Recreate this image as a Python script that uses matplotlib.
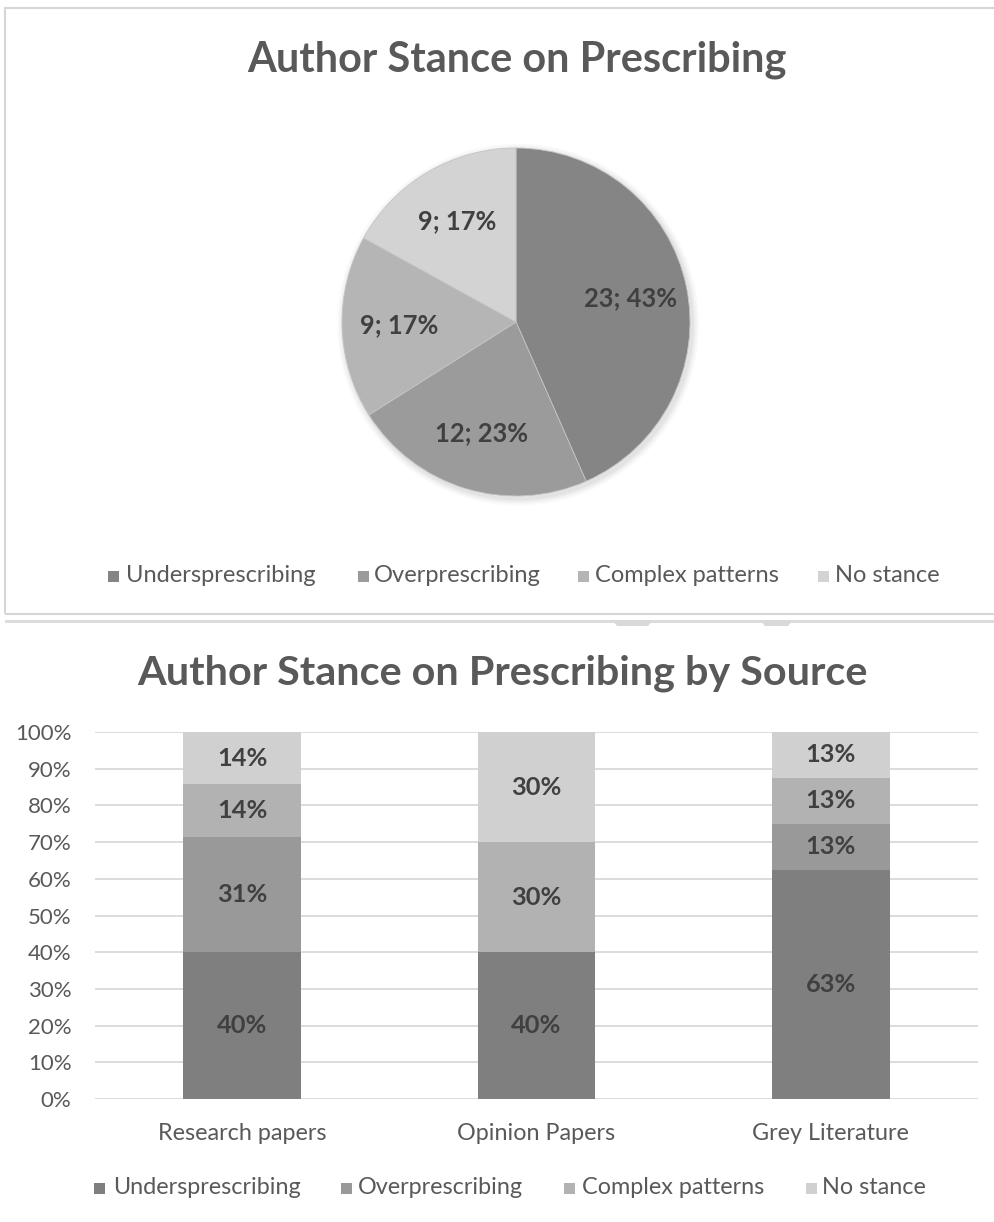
import matplotlib
matplotlib.use('Agg')
import matplotlib.pyplot as plt
from matplotlib.patches import Rectangle, Polygon, Circle
import numpy as np

plt.rcParams['font.family'] = ['Lato', 'DejaVu Sans']

# ---------------- data ----------------
categories = ['Undersprescribing', 'Overprescribing', 'Complex patterns', 'No stance']
pie_counts = [23, 12, 9, 9]

sources = ['Research papers', 'Opinion Papers', 'Grey Literature']
under_counts = [14, 4, 5]
over_counts = [11, 0, 1]
complex_counts = [5, 3, 1]
nostance_counts = [5, 3, 1]
y_ticks = [0, 10, 20, 30, 40, 50, 60, 70, 80, 90, 100]

title_top = 'Author Stance on Prescribing'
title_bottom = 'Author Stance on Prescribing by Source'

# ---------------- style ----------------
pie_colors = ['#858585', '#9b9b9b', '#b5b5b5', '#d3d3d3']
bar_colors = ['#7f7f7f', '#999999', '#b2b2b2', '#d0d0d0']
title_color = '#595959'
label_color = '#404040'
tick_color = '#595959'
grid_color = '#d9d9d9'

W, H = 995, 1222
fig = plt.figure(figsize=(W / 100, H / 100), dpi=100)


def fx(x):
    return x / W


def fy(y):
    return 1 - y / H


fit_list = []


def ftext(x, y, s, target_w=None, **kw):
    t = fig.text(fx(x), fy(y), s, **kw)
    if target_w:
        fit_list.append((t, target_w))
    return t


# ---------- top box ----------
fig.patches.append(Rectangle((fx(5), fy(614)), fx(1010) - fx(5), fy(8) - fy(614),
                             transform=fig.transFigure, fill=False,
                             edgecolor='#d6d6d6', lw=1.5, zorder=0))
fig.patches.append(Rectangle((fx(5), fy(623)), fx(995) - fx(5), 3 / H,
                             transform=fig.transFigure, facecolor='#dcdcdc',
                             edgecolor='none', zorder=0))
for x0, x1 in [(612, 653), (760, 793)]:
    fig.patches.append(Polygon([(fx(x0), fy(620)), (fx(x1), fy(620)),
                                (fx(x1 - 5), fy(626)), (fx(x0 + 5), fy(626))],
                               closed=True, transform=fig.transFigure,
                               facecolor='#d9d9d9', edgecolor='none', zorder=0))

# ---------- titles ----------
ftext(517, 60, title_top, 540, ha='center', va='center', fontsize=24,
      fontweight='bold', color=title_color)
ftext(502, 673, title_bottom, 731, ha='center', va='center', fontsize=24,
      fontweight='bold', color=title_color)

# ---------- pie ----------
cx, cy, R = 516, 322, 174
lim = 1.15
ax_pie = fig.add_axes([fx(cx - R * lim), fy(cy + R * lim), 2 * R * lim / W, 2 * R * lim / H])
total = sum(pie_counts)
# soft shadow
for i, a in enumerate([0.035, 0.03, 0.025, 0.02]):
    ax_pie.add_patch(Circle((0.012, -0.015), 1.0 + 0.01 * (i + 1), color='#000000',
                            alpha=a, lw=0, zorder=0))


def pie_fmt(p):
    n = int(round(p * total / 100.0))
    return f'{n}; {int(p + 0.5)}%'


wedges, texts, autotexts = ax_pie.pie(
    pie_counts, colors=pie_colors, startangle=90, counterclock=False,
    autopct=pie_fmt, pctdistance=0.67, radius=1.0,
    wedgeprops=dict(edgecolor='#c4c4c4', linewidth=0.6),
    textprops=dict(fontsize=17, fontweight='bold', color=label_color))
for w in wedges:
    w.set_zorder(2)
for t in autotexts:
    t.set_zorder(3)
ax_pie.set_xlim(-lim, lim)
ax_pie.set_ylim(-lim, lim)
ax_pie.axis('off')

# ---------- legends ----------
def legend(y, sq_x, txt_x, colors, sq=11):
    ts = []
    for i, (c, name) in enumerate(zip(colors, categories)):
        fig.patches.append(Rectangle((fx(sq_x[i]), fy(y + sq / 2)), sq / W, sq / H,
                                     transform=fig.transFigure, facecolor=c,
                                     edgecolor='none'))
        t = fig.text(fx(txt_x[i]), fy(y), name, ha='left', va='center',
                     fontsize=15, color=tick_color)
        ts.append(t)
    return ts


top_leg = legend(576, [108, 358, 578, 818], [126, 374, 595, 835], pie_colors)
bot_leg = legend(1188, [94, 341, 564, 806], [113, 358, 582, 822], bar_colors)

# ---------- bar chart ----------
ax = fig.add_axes([fx(95), fy(1099), (978 - 95) / W, (1099 - 732) / H])
series = [under_counts, over_counts, complex_counts, nostance_counts]
tot = np.array(under_counts) + np.array(over_counts) + np.array(complex_counts) + np.array(nostance_counts)
x = np.arange(len(sources))
bottom = np.zeros(len(sources))
bar_labels = []
for vals, c in zip(series, bar_colors):
    pct = np.array(vals) / tot * 100
    ax.bar(x, pct, width=0.4, bottom=bottom, color=c, zorder=3)
    for xi, p, b in zip(x, pct, bottom):
        if p > 0:
            t = ax.text(xi, b + p / 2, f'{int(p + 0.5)}%', ha='center', va='center',
                        fontsize=15, fontweight='bold', color=label_color, zorder=4)
            bar_labels.append(t)
    bottom = bottom + pct

ax.set_xlim(-0.5, 2.5)
ax.set_ylim(0, 100)
ax.set_yticks(y_ticks)
ax.set_yticklabels([f'{v}%' for v in y_ticks])
ax.set_xticks(x)
ax.set_xticklabels(sources)
ax.yaxis.grid(True, color=grid_color, lw=1.3, zorder=0)
ax.set_axisbelow(True)
for s in ax.spines.values():
    s.set_visible(False)
ax.tick_params(axis='both', length=0, colors=tick_color, labelsize=13)
ax.tick_params(axis='y', pad=17)
ax.tick_params(axis='x', pad=17)

# ---------- fit font sizes to measured widths ----------
fig.canvas.draw()
r = fig.canvas.get_renderer()


def scale_group(texts, ref, target):
    w = ref.get_window_extent(r).width
    k = target / w
    for t in texts:
        t.set_fontsize(t.get_fontsize() * k)


for t, tw in fit_list:
    scale_group([t], t, tw)
scale_group(list(autotexts), autotexts[0], 93)
scale_group(top_leg, top_leg[0], 190)
scale_group(bot_leg, bot_leg[0], 188)
scale_group(bar_labels, bar_labels[0], 50)
yl = ax.get_yticklabels()
scale_group(list(yl), yl[-1], 56)
xl = ax.get_xticklabels()
scale_group(list(xl), xl[0], 168)

fig.savefig('out.png', dpi=100, facecolor='white')
